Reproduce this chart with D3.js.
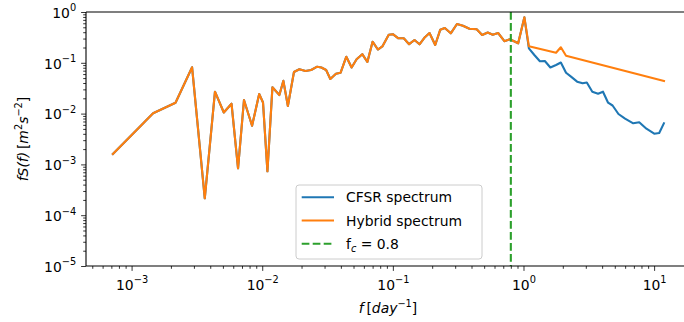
<!DOCTYPE html>
<html>
<head>
<meta charset="utf-8">
<script src="https://cdn.jsdelivr.net/npm/d3@7"></script>
<style>
    body { margin: 0; background: #fff; }
    text { font-family: 'DejaVu Sans', sans-serif; }
</style>
</head>
<body>
<div class="canvas"></div>
<script>
// shared part of both spectra (f below / around the cut-off)
const freqLow = [
    7.19e-4, 1.462e-3, 2.169e-3, 2.905e-3, 3.633e-3, 4.348e-3, 5.08e-3, 5.82e-3, 6.53e-3, 7.25e-3,
    8.36e-3, 9.48e-3, 1.014e-2, 1.096e-2, 1.197e-2, 1.353e-2, 1.452e-2, 1.572e-2, 1.750e-2, 1.925e-2,
    2.143e-2, 2.369e-2, 2.634e-2, 2.836e-2, 3.085e-2, 3.322e-2, 3.666e-2, 3.982e-2, 4.403e-2, 4.834e-2,
    5.279e-2, 5.834e-2, 6.383e-2, 6.995e-2, 7.678e-2, 8.31e-2, 9.30e-2, 0.1, 0.1102, 0.1212,
    0.1332, 0.1465, 0.16, 0.176, 0.1908, 0.2110, 0.2307, 0.2498, 0.2776, 0.3096,
    0.3440, 0.3858, 0.4381, 0.4826, 0.5325, 0.5814, 0.6394, 0.7145, 0.787, 0.911, 1.016
];
const specLow = [
    1.60e-3, 1.014e-2, 1.639e-2, 8.15e-2, 2.15e-4, 2.70e-2, 1.051e-2, 1.566e-2, 8.38e-4, 1.852e-2,
    5.75e-3, 2.43e-2, 1.654e-2, 7.31e-4, 3.29e-2, 2.32e-2, 4.42e-2, 1.411e-2, 6.59e-2, 7.48e-2,
    6.90e-2, 7.22e-2, 8.38e-2, 8.08e-2, 7.22e-2, 4.80e-2, 6.07e-2, 6.38e-2, 0.1318, 8.08e-2,
    0.1172, 0.1477, 0.1037, 0.2602, 0.1827, 0.2094, 0.3573, 0.3656, 0.3036, 0.3036,
    0.2324, 0.2811, 0.2313, 0.3191, 0.386, 0.2241, 0.4483, 0.4842, 0.3808, 0.5802,
    0.5351, 0.4670, 0.4586, 0.3525, 0.3948, 0.3573, 0.386, 0.2661, 0.2914, 0.2419, 0.786
];

// high-frequency tail of the CFSR spectrum
const freqCfsrHigh = [
    1.10, 1.211, 1.335, 1.457, 1.606, 1.775, 1.932, 2.117, 2.311, 2.574,
    2.836, 3.053, 3.364, 3.725, 4.06, 4.443, 4.808, 5.333, 5.991, 6.922,
    7.692, 8.732, 10.02, 10.94, 11.88
];
const specCfsrHigh = [
    0.1930, 0.1424, 0.1070, 0.1085, 8.08e-2, 9.05e-2, 0.1014, 6.38e-2, 5.33e-2, 4.25e-2,
    3.95e-2, 4.09e-2, 2.70e-2, 2.46e-2, 2.70e-2, 1.639e-2, 1.443e-2, 9.82e-3, 7.94e-3, 6.44e-3,
    6.77e-3, 5.04e-3, 4.02e-3, 4.15e-3, 6.44e-3
];

// high-frequency tail of the hybrid spectrum
const freqHybridHigh = [ 1.10, 1.775, 1.932, 2.117, 11.9 ];
const specHybridHigh = [ 0.2113, 0.158, 0.2019, 0.1373, 4.38e-2 ];

const fCut = 0.8;

const xTicks = [ 1e-3, 1e-2, 1e-1, 1e0, 1e1 ];
const xTickExp = [ '\u22123', '\u22122', '\u22121', '0', '1' ];
const yTicks = [ 1e-5, 1e-4, 1e-3, 1e-2, 1e-1, 1e0 ];
const yTickExp = [ '\u22125', '\u22124', '\u22123', '\u22122', '\u22121', '0' ];

const legendLabels = [ 'CFSR spectrum', 'Hybrid spectrum', 'f_c = 0.8' ];

const cfsr = freqLow.map((f, i) => ({ f, v: specLow[i] }))
    .concat(freqCfsrHigh.map((f, i) => ({ f, v: specCfsrHigh[i] })));
const hybrid = freqLow.map((f, i) => ({ f, v: specLow[i] }))
    .concat(freqHybridHigh.map((f, i) => ({ f, v: specHybridHigh[i] })));

const width = 684;
const height = 322;
const margin = { top: 12, left: 86, bottom: 56 };
const plotRight = 692;   // right spine falls just outside the picture

const svg = d3.select('.canvas')
    .append('svg')
    .attr('width', width)
    .attr('height', height)
;

// scales
const x = d3.scaleLog()
    .domain([ Math.pow(10, -3.349), Math.pow(10, 1.29) ])
    .range([ margin.left, plotRight ]);
const y = d3.scaleLog()
    .domain([ 1e-5, 1 ])
    .range([ height - margin.bottom, margin.top ]);

// minor tick values
const xMinor = [];
for (let e = -4; e <= 1; e++) {
    for (let m = 2; m <= 9; m++) {
        const v = m * Math.pow(10, e);
        if (v >= x.domain()[0] && v <= x.domain()[1]) xMinor.push(v);
    }
}
const yMinor = [];
for (let e = -5; e < 0; e++) {
    for (let m = 2; m <= 9; m++) yMinor.push(m * Math.pow(10, e));
}

const plot = svg.append('g');

// lines
const line = d3.line()
    .x(d => x(d.f))
    .y(d => y(d.v))
;

plot.append('path')
    .datum(cfsr)
    .attr('fill', 'none')
    .attr('stroke', '#1f77b4')
    .attr('stroke-width', 2.1)
    .attr('stroke-linejoin', 'round')
    .attr('stroke-linecap', 'square')
    .attr('d', line)
;

plot.append('path')
    .datum(hybrid)
    .attr('fill', 'none')
    .attr('stroke', '#ff7f0e')
    .attr('stroke-width', 2.1)
    .attr('stroke-linejoin', 'round')
    .attr('stroke-linecap', 'square')
    .attr('d', line)
;

plot.append('line')
    .attr('x1', x(fCut))
    .attr('x2', x(fCut))
    .attr('y1', y(1))
    .attr('y2', y(1e-5))
    .attr('stroke', '#2ca02c')
    .attr('stroke-width', 2.1)
    .attr('stroke-dasharray', '7.7,3.3')
;

// axes
const xAxisGroup = svg.append('g')
    .attr('transform', `translate(0, ${height - margin.bottom})`);
const xMinorGroup = svg.append('g')
    .attr('transform', `translate(0, ${height - margin.bottom})`);
const yAxisGroup = svg.append('g')
    .attr('transform', `translate(${margin.left}, 0)`);
const yMinorGroup = svg.append('g')
    .attr('transform', `translate(${margin.left}, 0)`);

xAxisGroup.call(d3.axisBottom(x).tickValues(xTicks).tickSize(4.9).tickPadding(4.9).tickFormat(''));
xMinorGroup.call(d3.axisBottom(x).tickValues(xMinor).tickSize(2.8).tickFormat(''));
yAxisGroup.call(d3.axisLeft(y).tickValues(yTicks).tickSize(4.9).tickPadding(4.9).tickFormat(''));
yMinorGroup.call(d3.axisLeft(y).tickValues(yMinor).tickSize(2.8).tickFormat(''));

[ xAxisGroup, xMinorGroup, yAxisGroup, yMinorGroup ].forEach(g => {
    g.select('.domain').remove();
    g.selectAll('line').attr('stroke', '#000').attr('stroke-width', 0.8);
});

// tick labels with superscripts
xAxisGroup.selectAll('.tick').each(function (d, i) {
    const t = d3.select(this).select('text')
        .attr('y', 0)
        .attr('dy', null)
        .attr('transform', 'translate(0, 23.5)')
        .attr('font-size', 13.9)
        .attr('fill', '#000')
        .attr('text-anchor', 'middle');
    t.append('tspan').text('10');
    t.append('tspan').attr('dy', -6.3).attr('font-size', 9.8).text(xTickExp[i]);
});

yAxisGroup.selectAll('.tick').each(function (d, i) {
    const t = d3.select(this).select('text')
        .attr('x', -9.8)
        .attr('dy', null)
        .attr('y', 5.2)
        .attr('font-size', 13.9)
        .attr('fill', '#000')
        .attr('text-anchor', 'end');
    t.append('tspan').text('10');
    t.append('tspan').attr('dy', -6.3).attr('font-size', 9.8).text(yTickExp[i]);
});

// spines
svg.append('line')
    .attr('x1', margin.left).attr('x2', plotRight)
    .attr('y1', margin.top).attr('y2', margin.top)
    .attr('stroke', '#000').attr('stroke-width', 1.1);
svg.append('line')
    .attr('x1', margin.left).attr('x2', plotRight)
    .attr('y1', height - margin.bottom).attr('y2', height - margin.bottom)
    .attr('stroke', '#000').attr('stroke-width', 1.1);
svg.append('line')
    .attr('x1', margin.left).attr('x2', margin.left)
    .attr('y1', margin.top).attr('y2', height - margin.bottom)
    .attr('stroke', '#000').attr('stroke-width', 1.1);

// axis labels
const xLabel = svg.append('text')
    .attr('x', 388)
    .attr('y', 313)
    .attr('text-anchor', 'middle')
    .attr('font-size', 13.9);
xLabel.append('tspan').attr('font-style', 'italic').text('f');
xLabel.append('tspan').text('\u2009[');
xLabel.append('tspan').attr('font-style', 'italic').text('day');
xLabel.append('tspan').attr('dy', -6.3).attr('font-size', 9.8).text('\u22121');
xLabel.append('tspan').attr('dy', 6.3).text(']');

const yLabel = svg.append('text')
    .attr('transform', 'translate(28, 139) rotate(-90)')
    .attr('text-anchor', 'middle')
    .attr('font-size', 13.9);
yLabel.append('tspan').attr('font-style', 'italic').text('fS(f)');
yLabel.append('tspan').text('\u2009[');
yLabel.append('tspan').attr('font-style', 'italic').text('m');
yLabel.append('tspan').attr('dy', -6.3).attr('font-size', 9.8).text('2');
yLabel.append('tspan').attr('dy', 6.3).attr('font-style', 'italic').text('s');
yLabel.append('tspan').attr('dy', -6.3).attr('font-size', 9.8).text('\u22122');
yLabel.append('tspan').attr('dy', 6.3).text(']');

// legend
const legend = svg.append('g').attr('transform', 'translate(296, 185)');
legend.append('rect')
    .attr('width', 186)
    .attr('height', 74)
    .attr('rx', 3)
    .attr('fill', 'rgba(255,255,255,0.8)')
    .attr('stroke', '#cccccc')
    .attr('stroke-width', 1);

const legendColors = [ '#1f77b4', '#ff7f0e', '#2ca02c' ];
const legendDash = [ null, null, '7.7,3.3' ];
legendLabels.forEach((label, i) => {
    const cy = 12.3 + i * 23.2;
    legend.append('line')
        .attr('x1', 5.7).attr('x2', 38)
        .attr('y1', cy).attr('y2', cy)
        .attr('stroke', legendColors[i])
        .attr('stroke-width', 2.1)
        .attr('stroke-dasharray', legendDash[i]);
    const t = legend.append('text')
        .attr('x', 50)
        .attr('y', cy + 5)
        .attr('font-size', 13.9)
        .attr('fill', '#000');
    if (label.indexOf('_') >= 0) {
        const parts = label.split('_');
        t.append('tspan').text(parts[0]);
        t.append('tspan').attr('dy', 3).attr('font-size', 9.8).attr('font-style', 'italic').text(parts[1][0]);
        t.append('tspan').attr('dy', -3).text(parts[1].slice(1));
    } else {
        t.text(label);
    }
});
</script>
</body>
</html>
